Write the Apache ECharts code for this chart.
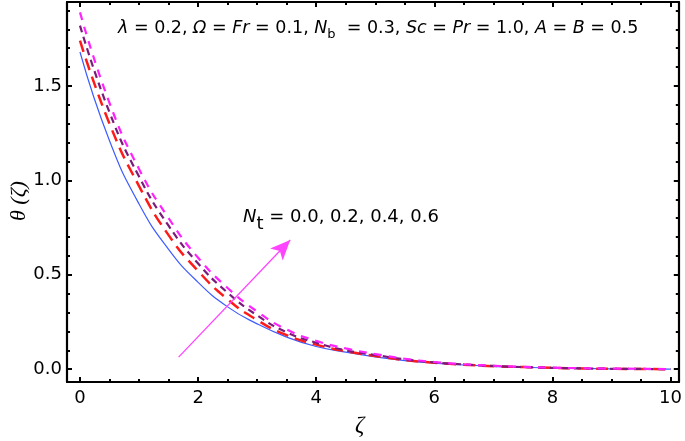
<!DOCTYPE html>
<html>
<head>
<meta charset="utf-8">
<script src="https://cdn.jsdelivr.net/npm/echarts@6/dist/echarts.min.js"></script>
<style>
  html, body { margin: 0; padding: 0; background: #fff; }
  #main { width: 685px; height: 441px; }
</style>
</head>
<body>
<div id="main"></div>
<script>
// zeta grid and theta values (Nt = 0.0, 0.2, 0.4, 0.6)
var zeta = [0, 0.5, 1, 1.5, 2, 2.5, 3, 3.5, 4, 4.5, 5, 5.5, 6, 6.5, 7, 7.5, 8, 8.5, 9, 9.5, 10];
var nt00 = [1.68, 1.21, 0.875, 0.635, 0.46, 0.33, 0.24, 0.17, 0.12, 0.09, 0.065, 0.045, 0.032, 0.022, 0.015, 0.010, 0.006, 0.004, 0.002, 0.001, 0.0];
var nt02 = [1.74, 1.30, 0.97, 0.71, 0.52, 0.37, 0.26, 0.18, 0.13, 0.095, 0.07, 0.048, 0.034, 0.024, 0.016, 0.011, 0.007, 0.004, 0.002, 0.001, 0.0];
var nt04 = [1.82, 1.36, 1.02, 0.76, 0.56, 0.405, 0.285, 0.195, 0.14, 0.10, 0.075, 0.052, 0.036, 0.025, 0.017, 0.011, 0.007, 0.004, 0.002, 0.001, 0.0];
var nt06 = [1.89, 1.41, 1.06, 0.80, 0.59, 0.43, 0.305, 0.21, 0.15, 0.11, 0.08, 0.055, 0.038, 0.026, 0.018, 0.012, 0.008, 0.005, 0.003, 0.002, 0.0];

var xMajor = [0, 2, 4, 6, 8, 10];
var xMinor = [0.5, 1, 1.5, 2.5, 3, 3.5, 4.5, 5, 5.5, 6.5, 7, 7.5, 8.5, 9, 9.5];
var yMajor = [0, 0.5, 1, 1.5];
var yMinor = [0.1, 0.2, 0.3, 0.4, 0.6, 0.7, 0.8, 0.9, 1.1, 1.2, 1.3, 1.4, 1.6, 1.7, 1.8, 1.9];

var arrowStart = [1.67, 0.064];
var arrowEnd = [3.56, 0.684];

function pairs(ys) {
  return zeta.map(function (x, i) { return [x, ys[i]]; });
}

var chart = echarts.init(document.getElementById('main'));

var X_MIN = -0.22, X_MAX = 10.14, Y_MIN = -0.068, Y_MAX = 1.945;
var FONT = 'DejaVu Sans';

function xAx(pos, ticks, len, labels, line) {
  return {
    type: 'value', position: pos, min: X_MIN, max: X_MAX,
    axisLine: { show: line, onZero: false, lineStyle: { color: '#000', width: 2.2 } },
    axisTick: { show: true, inside: true, length: len, customValues: ticks, lineStyle: { color: '#000', width: 2 } },
    axisLabel: { show: labels, customValues: ticks, color: '#000', fontSize: 18, fontFamily: FONT, margin: 7 },
    splitLine: { show: false }
  };
}
function yAx(pos, ticks, len, labels, line) {
  return {
    type: 'value', position: pos, min: Y_MIN, max: Y_MAX,
    axisLine: { show: line, onZero: false, lineStyle: { color: '#000', width: 2.2 } },
    axisTick: { show: true, inside: true, length: len, customValues: ticks, lineStyle: { color: '#000', width: 2 } },
    axisLabel: { show: labels, customValues: ticks, color: '#000', fontSize: 18, fontFamily: FONT, margin: 5,
      formatter: function (v) { return v.toFixed(1); } },
    splitLine: { show: false }
  };
}

var option = {
  backgroundColor: '#fff',
  animation: false,
  grid: { left: 67, right: 6, top: 2, bottom: 59 },
  xAxis: [
    xAx('bottom', xMajor, 5, true, true),
    xAx('bottom', xMinor, 3, false, false),
    xAx('top', xMajor, 5, false, true),
    xAx('top', xMinor, 3, false, false)
  ],
  yAxis: [
    yAx('left', yMajor, 5, true, true),
    yAx('left', yMinor, 3, false, false),
    yAx('right', yMajor, 5, false, true),
    yAx('right', yMinor, 3, false, false)
  ],
  series: [
    {
      name: 'Nt = 0.0', type: 'line', data: pairs(nt00), smooth: 0.5, showSymbol: false,
      lineStyle: { color: '#3d5cff', width: 1.2 }
    },
    {
      name: 'Nt = 0.2', type: 'line', data: pairs(nt02), smooth: 0.5, showSymbol: false,
      lineStyle: { color: '#ff1a1a', width: 2.5, type: [12, 7] }
    },
    {
      name: 'Nt = 0.4', type: 'line', data: pairs(nt04), smooth: 0.5, showSymbol: false,
      lineStyle: { color: '#7a1a7a', width: 2.2, type: [7, 5] }
    },
    {
      name: 'Nt = 0.6', type: 'line', data: pairs(nt06), smooth: 0.5, showSymbol: false,
      lineStyle: { color: '#ff22ff', width: 2.2, type: [8, 7] },
      markLine: {
        silent: true,
        symbol: ['none', 'arrow'],
        symbolSize: [13, 20],
        label: { show: false },
        lineStyle: { color: '#ff44ff', width: 1.3, type: 'solid' },
        data: [[{ coord: arrowStart }, { coord: arrowEnd }]]
      }
    }
  ],
  graphic: [
    {
      type: 'text', left: 118, top: 19,
      style: {
        text: '{i|λ} = 0.2, {i|Ω} = {i|Fr} = 0.1, {i|N}{s|b}  = 0.3, {i|Sc} = {i|Pr} = 1.0, {i|A} = {i|B} = 0.5',
        fill: '#000', fontSize: 17.5, fontFamily: FONT,
        rich: {
          i: { fontStyle: 'italic', fontSize: 17.5, fontFamily: FONT, fill: '#000' },
          s: { fontSize: 13, fontFamily: FONT, fill: '#000', padding: [14, 0, 0, 0] }
        }
      }
    },
    {
      type: 'text', left: 243, top: 208,
      style: {
        text: '{i|N}{s|t} = 0.0, 0.2, 0.4, 0.6',
        fill: '#000', fontSize: 18, fontFamily: FONT,
        rich: {
          i: { fontStyle: 'italic', fontSize: 18, fontFamily: FONT, fill: '#000' },
          s: { fontSize: 18, fontFamily: FONT, fill: '#000', padding: [14, 0, 0, 0] }
        }
      }
    },
    {
      type: 'text', x: 355, y: 414,
      style: { text: 'ζ', fill: '#000', fontSize: 23, fontStyle: 'italic', fontFamily: 'Liberation Serif' }
    },
    {
      type: 'text', x: 19, y: 201, rotation: Math.PI / 2,
      style: { text: 'θ (ζ)', fill: '#000', fontSize: 22, fontStyle: 'italic', fontFamily: 'Liberation Serif',
        x: 0, y: 0, align: 'center', verticalAlign: 'middle' }
    }
  ]
};

chart.setOption(option);
</script>
</body>
</html>
